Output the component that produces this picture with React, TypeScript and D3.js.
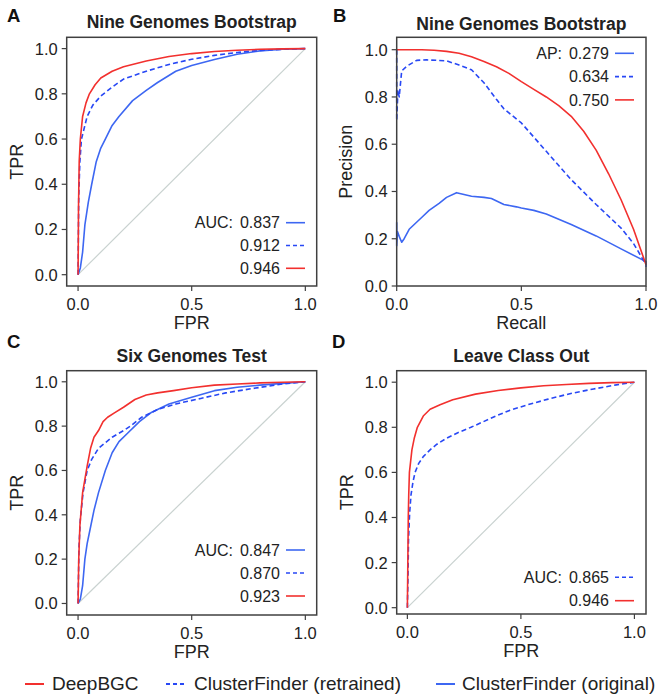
import React from "react";
import * as d3 from "d3";

type Pt = [number, number];

// ---------- Panel A: Nine Genomes Bootstrap (ROC) ----------
const rocA_deep: Pt[] = [[0,0],[0.002,0.3],[0.005,0.5],[0.01,0.6],[0.02,0.7],[0.035,0.76],[0.05,0.8],[0.075,0.84],[0.1,0.87],[0.15,0.9],[0.2,0.92],[0.3,0.945],[0.4,0.965],[0.5,0.978],[0.6,0.987],[0.7,0.993],[0.8,0.997],[0.9,0.999],[1,1]];
const rocA_retrained: Pt[] = [[0,0],[0.003,0.35],[0.008,0.5],[0.015,0.6],[0.04,0.7],[0.065,0.75],[0.1,0.79],[0.15,0.83],[0.2,0.865],[0.3,0.9],[0.4,0.93],[0.5,0.953],[0.6,0.97],[0.7,0.983],[0.8,0.992],[0.9,0.997],[1,1]];
const rocA_original: Pt[] = [[0,0],[0.01,0.03],[0.02,0.1],[0.03,0.22],[0.045,0.32],[0.06,0.4],[0.08,0.5],[0.1,0.56],[0.12,0.6],[0.15,0.66],[0.18,0.7],[0.24,0.77],[0.3,0.815],[0.35,0.85],[0.43,0.9],[0.5,0.925],[0.6,0.952],[0.7,0.975],[0.8,0.99],[0.9,0.997],[1,1]];

// ---------- Panel B: Nine Genomes Bootstrap (PR) ----------
const prB_deep: Pt[] = [[0,1],[0.1,1],[0.15,0.998],[0.2,0.993],[0.25,0.985],[0.3,0.97],[0.35,0.95],[0.4,0.928],[0.45,0.9],[0.5,0.865],[0.55,0.832],[0.6,0.8],[0.65,0.763],[0.7,0.718],[0.75,0.655],[0.8,0.575],[0.85,0.475],[0.9,0.365],[0.95,0.24],[1,0.09]];
const prB_retrained: Pt[] = [[0,1],[0,0.7],[0.005,0.83],[0.01,0.8],[0.02,0.91],[0.04,0.93],[0.08,0.955],[0.12,0.957],[0.2,0.953],[0.25,0.935],[0.3,0.915],[0.35,0.86],[0.4,0.79],[0.43,0.75],[0.5,0.69],[0.55,0.63],[0.6,0.57],[0.7,0.45],[0.8,0.345],[0.9,0.245],[0.95,0.18],[1,0.09]];
const prB_original: Pt[] = [[0,0.27],[0,0.17],[0.003,0.23],[0.01,0.21],[0.02,0.185],[0.03,0.2],[0.05,0.24],[0.1,0.29],[0.13,0.32],[0.17,0.35],[0.2,0.375],[0.24,0.395],[0.3,0.38],[0.35,0.375],[0.38,0.37],[0.43,0.345],[0.48,0.335],[0.5,0.33],[0.55,0.32],[0.6,0.305],[0.7,0.26],[0.8,0.212],[0.9,0.157],[1,0.103],[1,0.08]];

// ---------- Panel C: Six Genomes Test (ROC) ----------
const rocC_deep: Pt[] = [[0,0],[0.003,0.2],[0.008,0.35],[0.02,0.5],[0.03,0.56],[0.04,0.62],[0.055,0.7],[0.07,0.75],[0.09,0.78],[0.11,0.82],[0.13,0.84],[0.16,0.86],[0.2,0.885],[0.25,0.92],[0.3,0.94],[0.35,0.95],[0.42,0.96],[0.5,0.973],[0.6,0.985],[0.7,0.99],[0.8,0.995],[0.9,0.998],[1,1]];
const rocC_retrained: Pt[] = [[0,0],[0.004,0.25],[0.01,0.38],[0.022,0.5],[0.04,0.6],[0.06,0.65],[0.09,0.7],[0.15,0.75],[0.2,0.78],[0.23,0.8],[0.28,0.84],[0.35,0.875],[0.43,0.9],[0.54,0.925],[0.65,0.95],[0.77,0.97],[0.9,0.99],[1,1]];
const rocC_original: Pt[] = [[0,0],[0.01,0.02],[0.02,0.08],[0.03,0.2],[0.04,0.27],[0.05,0.32],[0.07,0.42],[0.09,0.5],[0.12,0.6],[0.15,0.68],[0.18,0.73],[0.22,0.77],[0.27,0.82],[0.32,0.86],[0.4,0.9],[0.5,0.93],[0.6,0.96],[0.7,0.975],[0.8,0.985],[0.9,0.993],[1,1]];

// ---------- Panel D: Leave Class Out (ROC) ----------
const rocD_deep: Pt[] = [[0,0],[0.002,0.2],[0.004,0.4],[0.006,0.5],[0.009,0.6],[0.02,0.7],[0.03,0.75],[0.044,0.8],[0.07,0.85],[0.1,0.88],[0.144,0.9],[0.2,0.922],[0.3,0.947],[0.4,0.963],[0.5,0.975],[0.6,0.984],[0.7,0.99],[0.8,0.995],[0.9,0.998],[1,1]];
const rocD_retrained: Pt[] = [[0,0],[0.003,0.15],[0.005,0.3],[0.01,0.42],[0.016,0.5],[0.025,0.56],[0.034,0.6],[0.05,0.64],[0.07,0.67],[0.1,0.7],[0.13,0.725],[0.17,0.75],[0.22,0.775],[0.28,0.8],[0.39,0.85],[0.45,0.875],[0.53,0.9],[0.62,0.925],[0.72,0.95],[0.82,0.97],[0.92,0.988],[1,1]];

// ---------- Labels ----------
const yTicks = [0, 0.2, 0.4, 0.6, 0.8, 1.0];
const xTicks = [0, 0.5, 1.0];
const aucA = ["0.837", "0.912", "0.946"];
const apB = ["0.279", "0.634", "0.750"];
const aucC = ["0.847", "0.870", "0.923"];
const aucD = ["0.865", "0.946"];
const legendNames = ["DeepBGC", "ClusterFinder (retrained)", "ClusterFinder (original)"];

const RED = "#f2302e";
const BLUE = "#3d67f2";
const BLUE_D = "#2848f5";
const FRAME = "#404040";
const FONT = "'Liberation Sans', Arial, Helvetica, sans-serif";

type Kind = "deep" | "retrained" | "original";
const styleOf = (k: Kind) =>
  k === "deep"
    ? { stroke: RED, dash: undefined as string | undefined }
    : k === "retrained"
    ? { stroke: BLUE_D, dash: "5,3" }
    : { stroke: BLUE, dash: undefined as string | undefined };

interface Series { kind: Kind; data: Pt[]; }
interface LegendRow { label?: string; value: string; kind: Kind; }

interface PanelProps {
  letter: string;
  letterX: number;
  letterY: number;
  title: string;
  titleY: number;
  frame: { x0: number; x1: number; y0: number; y1: number };
  xDomain: [number, number];
  yDomain: [number, number];
  xLabel: string;
  yLabel: string;
  yLabelX: number;
  diagonal: boolean;
  series: Series[];
  legend: LegendRow[];
  legendX: number;
  legendY: number;
  legendStep: number;
}

const Panel: React.FC<PanelProps> = (p) => {
  const { frame } = p;
  const x = d3.scaleLinear().domain(p.xDomain).range([frame.x0, frame.x1]);
  const y = d3.scaleLinear().domain(p.yDomain).range([frame.y1, frame.y0]);
  const line = d3.line<Pt>().x((d) => x(d[0])).y((d) => y(d[1]));
  const fmt = d3.format(".1f");
  const cx = (frame.x0 + frame.x1) / 2;
  const cy = (frame.y0 + frame.y1) / 2;
  return (
    <g>
      <text x={p.letterX} y={p.letterY} fontSize={18.5} fontWeight="bold" fontFamily={FONT} fill="#111">{p.letter}</text>
      <text x={cx} y={p.titleY} fontSize={17.5} fontWeight="bold" fontFamily={FONT} textAnchor="middle" fill="#222">{p.title}</text>
      {p.diagonal && (
        <line x1={x(0)} y1={y(0)} x2={x(1)} y2={y(1)} stroke="#c9d2d0" strokeWidth={1.2} />
      )}
      {p.series.map((s, i) => {
        const st = styleOf(s.kind);
        return (
          <path key={i} d={line(s.data) || ""} fill="none" stroke={st.stroke}
            strokeWidth={1.6} strokeDasharray={st.dash} strokeLinejoin="round" />
        );
      })}
      <rect x={frame.x0} y={frame.y0} width={frame.x1 - frame.x0} height={frame.y1 - frame.y0}
        fill="none" stroke={FRAME} strokeWidth={1.5} />
      {yTicks.map((t) => (
        <g key={"y" + t}>
          <line x1={frame.x0 - 5} x2={frame.x0} y1={y(t)} y2={y(t)} stroke={FRAME} strokeWidth={1.2} />
          <text x={frame.x0 - 9} y={y(t)} dy="0.36em" textAnchor="end" fontSize={16.5} fontFamily={FONT} fill="#222">{fmt(t)}</text>
        </g>
      ))}
      {xTicks.map((t) => (
        <g key={"x" + t}>
          <line x1={x(t)} x2={x(t)} y1={frame.y1} y2={frame.y1 + 5} stroke={FRAME} strokeWidth={1.2} />
          <text x={x(t)} y={frame.y1 + 24} textAnchor="middle" fontSize={16.5} fontFamily={FONT} fill="#222">{fmt(t)}</text>
        </g>
      ))}
      <text x={cx} y={frame.y1 + 43} textAnchor="middle" fontSize={18} fontFamily={FONT} fill="#222">{p.xLabel}</text>
      <text transform={`translate(${p.yLabelX},${cy}) rotate(-90)`} textAnchor="middle" fontSize={18} fontFamily={FONT} fill="#222">{p.yLabel}</text>
      {p.legend.map((r, i) => {
        const st = styleOf(r.kind);
        const ry = p.legendY + i * p.legendStep;
        return (
          <g key={"l" + i}>
            <line x1={p.legendX - 19} x2={p.legendX} y1={ry} y2={ry} stroke={st.stroke} strokeWidth={1.6} strokeDasharray={r.kind === "retrained" ? "4,3" : undefined} />
            <text x={p.legendX - 25} y={ry} dy="0.36em" textAnchor="end" fontSize={16} fontFamily={FONT} fill="#222">{r.value}</text>
            {r.label && (
              <text x={p.legendX - 72} y={ry} dy="0.36em" textAnchor="end" fontSize={16} fontFamily={FONT} fill="#222">{r.label}</text>
            )}
          </g>
        );
      })}
    </g>
  );
};

export default function App() {
  const pad: [number, number] = [-0.05, 1.05];
  const bottomLegend: { kind: Kind; x: number; tx: number }[] = [
    { kind: "deep", x: 25, tx: 52 },
    { kind: "retrained", x: 166, tx: 194 },
    { kind: "original", x: 436, tx: 462 },
  ];
  return (
    <svg width={661} height={699} style={{ position: "absolute", left: 0, top: 0, background: "#fff" }}>
      <rect x={0} y={0} width={661} height={699} fill="#fff" />
      <Panel letter="A" letterX={7} letterY={22} title="Nine Genomes Bootstrap" titleY={28}
        frame={{ x0: 66.7, x1: 316.7, y0: 37.3, y1: 286 }} xDomain={pad} yDomain={pad}
        xLabel="FPR" yLabel="TPR" yLabelX={23} diagonal
        series={[{ kind: "original", data: rocA_original }, { kind: "retrained", data: rocA_retrained }, { kind: "deep", data: rocA_deep }]}
        legend={[{ label: "AUC:", value: aucA[0], kind: "original" }, { value: aucA[1], kind: "retrained" }, { value: aucA[2], kind: "deep" }]}
        legendX={305} legendY={222.7} legendStep={22.8} />
      <Panel letter="B" letterX={333} letterY={22} title="Nine Genomes Bootstrap" titleY={30}
        frame={{ x0: 396.7, x1: 646, y0: 37.3, y1: 286 }} xDomain={[0, 1]} yDomain={[0, 1.0525]}
        xLabel="Recall" yLabel="Precision" yLabelX={352} diagonal={false}
        series={[{ kind: "original", data: prB_original }, { kind: "retrained", data: prB_retrained }, { kind: "deep", data: prB_deep }]}
        legend={[{ label: "AP:", value: apB[0], kind: "original" }, { value: apB[1], kind: "retrained" }, { value: apB[2], kind: "deep" }]}
        legendX={634} legendY={53.3} legendStep={23.3} />
      <Panel letter="C" letterX={7} letterY={348} title="Six Genomes Test" titleY={362}
        frame={{ x0: 66.7, x1: 316.7, y0: 370.7, y1: 615 }} xDomain={pad} yDomain={[-0.052, 1.05]}
        xLabel="FPR" yLabel="TPR" yLabelX={23} diagonal
        series={[{ kind: "original", data: rocC_original }, { kind: "retrained", data: rocC_retrained }, { kind: "deep", data: rocC_deep }]}
        legend={[{ label: "AUC:", value: aucC[0], kind: "original" }, { value: aucC[1], kind: "retrained" }, { value: aucC[2], kind: "deep" }]}
        legendX={305} legendY={550} legendStep={23} />
      <Panel letter="D" letterX={332} letterY={348} title="Leave Class Out" titleY={362}
        frame={{ x0: 396.7, x1: 646, y0: 370.7, y1: 614 }} xDomain={[-0.047, 1.051]} yDomain={[-0.028, 1.051]}
        xLabel="FPR" yLabel="TPR" yLabelX={353} diagonal
        series={[{ kind: "retrained", data: rocD_retrained }, { kind: "deep", data: rocD_deep }]}
        legend={[{ label: "AUC:", value: aucD[0], kind: "retrained" }, { value: aucD[1], kind: "deep" }]}
        legendX={634} legendY={577.3} legendStep={23.4} />
      {bottomLegend.map((b, i) => {
        const st = styleOf(b.kind);
        return (
          <g key={"bl" + i}>
            <line x1={b.x} x2={b.x + 19} y1={684} y2={684} stroke={st.stroke} strokeWidth={2}
              strokeDasharray={b.kind === "retrained" ? "4,3" : undefined} />
            <text x={b.tx} y={690} fontSize={19} fontFamily={FONT} fill="#222">{legendNames[i]}</text>
          </g>
        );
      })}
    </svg>
  );
}
